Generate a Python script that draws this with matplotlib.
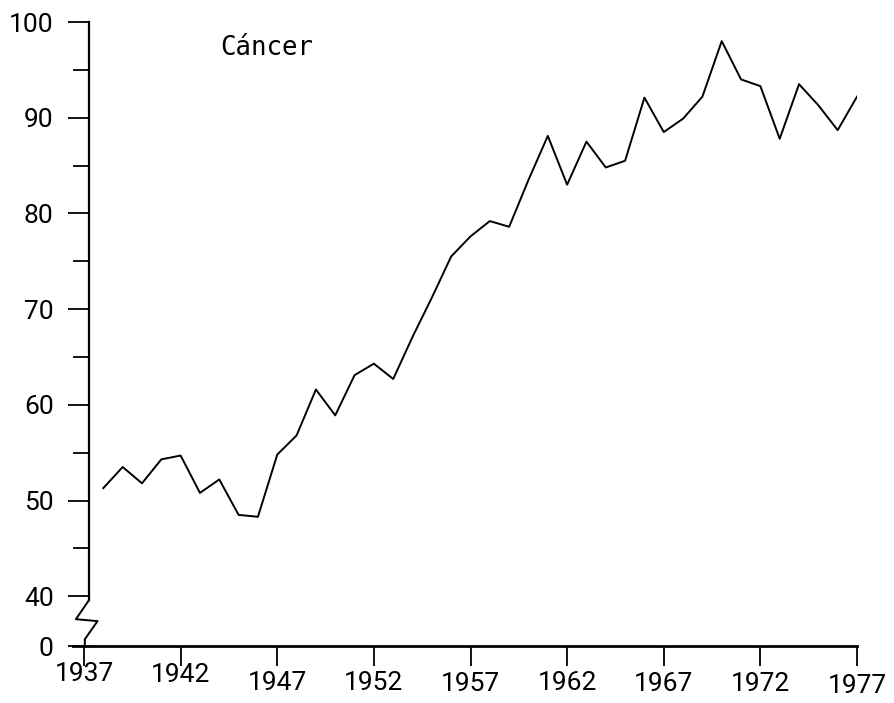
import matplotlib
matplotlib.use("Agg")
import matplotlib.pyplot as plt

# datos (indice, año)
years = list(range(1938, 1978))
cancer = [51.3, 53.5, 51.8, 54.3, 54.7, 50.8, 52.2, 48.5, 48.3, 54.8,
          56.8, 61.6, 58.9, 63.1, 64.3, 62.7, 67.1, 71.2, 75.5, 77.6,
          79.2, 78.6, 83.5, 88.1, 83.0, 87.5, 84.8, 85.5, 92.1, 88.5,
          89.9, 92.2, 98.0, 94.0, 93.3, 87.8, 93.5, 91.3, 88.7, 92.2]

xticks = [1937, 1942, 1947, 1952, 1957, 1962, 1967, 1972, 1977]
yticks = [40, 50, 60, 70, 80, 90, 100]
yminor = [45, 55, 65, 75, 85, 95]

# el eje y esta cortado: el "0" se dibuja justo debajo del 40
y_zero = 34.8
x_left = 1936.43
x_axis = 1937.26

plt.rcParams['font.family'] = ['Roboto', 'DejaVu Sans']

fig = plt.figure(figsize=(8.94, 7.03), dpi=100)
ax = fig.add_axes([73 / 894, 57 / 703, 784 / 894, 624 / 703])

ax.plot(years, cancer, color='black', lw=1.4)

ax.set_xlim(x_left, 1977)
ax.set_ylim(y_zero, 100)

for s in ['top', 'right']:
    ax.spines[s].set_visible(False)
ax.spines['left'].set_position(('data', x_axis))
ax.spines['left'].set_bounds(39.6, 100)
ax.spines['left'].set_linewidth(1.6)
ax.spines['bottom'].set_linewidth(2.0)

ax.set_xticks(xticks)
ax.set_xticklabels([str(y) for y in xticks])
ax.set_yticks([y_zero] + yticks)
ax.set_yticklabels(['0'] + [str(y) for y in yticks])
ax.set_yticks(yminor, minor=True)

ax.tick_params(axis='x', direction='out', length=14.5, width=1.3, pad=0, labelsize=19)
ax.tick_params(axis='y', which='major', direction='out', length=15, width=1.3, pad=10.5, labelsize=19)
ax.tick_params(axis='y', which='minor', direction='out', length=11.5, width=1.3)

# etiquetas del eje x un poco escalonadas como en el original
for t, p in zip(ax.xaxis.get_major_ticks(), [-2.9, -2.2, 3.6, 3.6, 4.3, 3.6, 4.3, 4.3, 5.8]):
    t.set_pad(p)

# simbolo de corte del eje
zx = [x_axis, x_axis - 0.68, x_axis + 0.44, x_axis - 0.22, x_axis - 0.22]
zy = [39.6, 37.6, 37.4, 35.5, y_zero]
ax.plot(zx, zy, color='black', lw=1.4, clip_on=False)

ax.text(0.1875, 0.958, 'Cáncer', transform=ax.transAxes, fontsize=18.5,
        family=['DejaVu Sans Mono'], ha='left', va='center')

fig.savefig('out.png', dpi=100)
